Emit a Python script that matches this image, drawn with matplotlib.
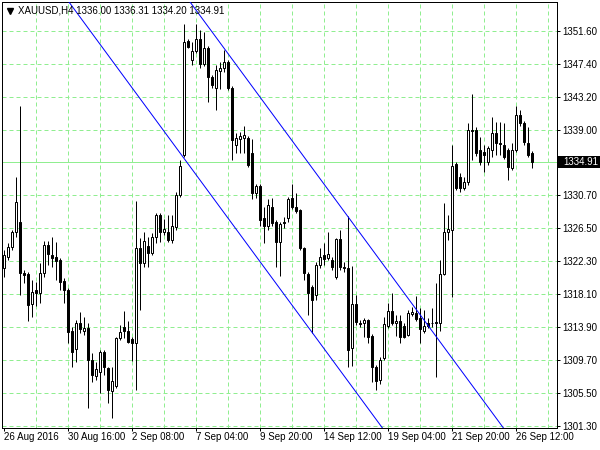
import matplotlib.pyplot as plt
from matplotlib.lines import Line2D
from matplotlib.patches import Rectangle
from matplotlib.transforms import blended_transform_factory

# XAUUSD H4 candles, bar 0 = 26 Aug 2016 00:00
bar_open = [1321.41, 1322.81, 1324.08, 1325.99, 1327.27, 1320.77, 1320.65, 1316.83, 1318.61, 1318.23,
            1320.77, 1324.34, 1323.07, 1322.81, 1322.43, 1319.76, 1318.61, 1313.39, 1311.10, 1314.41,
            1313.39, 1313.77, 1309.70, 1307.67, 1308.18, 1310.72, 1308.68, 1305.76, 1306.39, 1312.50,
            1313.90, 1313.39, 1312.38, 1311.86, 1323.95, 1322.05, 1324.21, 1323.32, 1325.36, 1328.16,
            1325.99, 1325.99, 1324.97, 1326.63, 1330.70, 1335.79, 1350.30, 1347.88, 1349.03, 1350.56,
            1347.37, 1349.41, 1345.72, 1344.32, 1346.48, 1346.87, 1347.63, 1344.32, 1337.07, 1337.83,
            1337.96, 1337.96, 1336.05, 1330.96, 1331.85, 1327.77, 1326.76, 1329.17, 1327.27, 1324.72,
            1327.27, 1327.77, 1330.32, 1329.17, 1328.79, 1323.95, 1320.65, 1318.99, 1317.98, 1321.79,
            1323.07, 1322.68, 1322.43, 1320.27, 1325.10, 1321.54, 1321.41, 1311.23, 1316.83, 1314.41,
            1314.41, 1314.79, 1312.76, 1308.81, 1307.16, 1309.96, 1314.03, 1315.94, 1314.41, 1314.67,
            1314.03, 1312.88, 1315.56, 1315.68, 1315.05, 1313.39, 1314.41, 1314.41, 1314.41, 1314.41,
            1320.65, 1325.99, 1326.25, 1334.65, 1332.99, 1331.59, 1332.36, 1338.97, 1338.97, 1336.43,
            1336.17, 1334.90, 1336.43, 1338.59, 1337.32, 1337.07, 1336.43, 1334.14, 1336.43, 1340.88,
            1339.87, 1337.32, 1336.00]
bar_high = [1323.70, 1324.59, 1326.25, 1332.99, 1342.03, 1321.16, 1320.90, 1319.88, 1319.63, 1322.05,
            1324.85, 1324.85, 1325.36, 1324.72, 1322.68, 1320.14, 1318.87, 1313.90, 1314.79, 1315.81,
            1315.17, 1314.41, 1310.59, 1309.45, 1310.97, 1310.97, 1308.81, 1308.81, 1312.63, 1314.16,
            1315.94, 1314.67, 1312.63, 1329.94, 1325.23, 1325.99, 1325.36, 1325.87, 1328.41, 1328.41,
            1327.65, 1328.16, 1328.16, 1331.08, 1335.16, 1352.47, 1350.56, 1350.17, 1352.47, 1351.70,
            1351.45, 1349.67, 1345.97, 1347.25, 1347.63, 1349.16, 1347.88, 1344.57, 1338.59, 1338.72,
            1339.48, 1338.21, 1337.83, 1332.10, 1332.10, 1329.17, 1330.19, 1330.32, 1327.52, 1327.27,
            1327.90, 1330.45, 1332.10, 1330.96, 1328.92, 1324.08, 1320.90, 1319.25, 1322.17, 1323.95,
            1324.59, 1325.99, 1322.81, 1325.23, 1326.25, 1322.17, 1328.03, 1321.67, 1317.98, 1314.79,
            1315.05, 1314.92, 1313.01, 1309.07, 1310.08, 1315.17, 1316.96, 1318.23, 1315.43, 1315.43,
            1314.41, 1316.06, 1316.45, 1317.85, 1316.32, 1316.06, 1315.05, 1316.32, 1319.50, 1322.43,
            1329.68, 1328.16, 1337.07, 1334.90, 1333.50, 1332.99, 1339.87, 1343.56, 1339.36, 1338.08,
            1337.07, 1336.94, 1340.63, 1339.99, 1339.99, 1339.87, 1336.68, 1337.32, 1342.03, 1341.52,
            1340.12, 1339.36, 1336.31]
bar_low = [1320.27, 1322.43, 1323.70, 1325.36, 1317.98, 1319.50, 1314.67, 1315.17, 1316.57, 1316.96,
           1320.27, 1321.79, 1321.54, 1319.88, 1318.61, 1316.96, 1311.86, 1308.81, 1309.45, 1313.14,
           1312.88, 1303.59, 1306.90, 1307.16, 1305.50, 1307.79, 1304.23, 1302.32, 1306.14, 1312.25,
           1312.50, 1311.86, 1309.58, 1305.88, 1316.06, 1321.54, 1321.54, 1323.07, 1324.59, 1324.72,
           1325.61, 1324.72, 1324.59, 1326.25, 1330.45, 1335.54, 1349.41, 1347.25, 1348.77, 1346.87,
           1347.12, 1342.54, 1344.32, 1341.52, 1344.19, 1346.36, 1344.07, 1335.16, 1336.05, 1336.05,
           1336.05, 1334.27, 1330.19, 1330.32, 1326.76, 1324.59, 1326.25, 1326.76, 1321.54, 1320.39,
           1326.50, 1327.27, 1328.92, 1328.41, 1323.70, 1319.88, 1315.43, 1313.14, 1317.34, 1321.41,
           1321.79, 1322.43, 1321.16, 1320.01, 1321.16, 1320.90, 1308.81, 1308.94, 1314.16, 1313.90,
           1312.63, 1311.86, 1306.90, 1305.88, 1306.65, 1309.70, 1313.77, 1314.16, 1312.76, 1311.86,
           1312.50, 1312.76, 1315.30, 1314.67, 1311.86, 1313.14, 1313.77, 1313.90, 1307.54, 1313.39,
           1320.52, 1324.97, 1317.72, 1331.34, 1331.08, 1331.34, 1331.97, 1335.16, 1335.67, 1334.52,
           1333.63, 1334.52, 1335.54, 1335.79, 1335.79, 1335.28, 1332.61, 1333.88, 1336.17, 1339.48,
           1337.07, 1335.54, 1334.20]
bar_close = [1323.07, 1324.08, 1325.99, 1329.81, 1320.77, 1320.52, 1316.70, 1318.36, 1318.23, 1320.77,
             1324.34, 1323.19, 1322.68, 1322.30, 1319.63, 1318.61, 1313.27, 1310.72, 1314.41, 1313.65,
             1313.77, 1309.70, 1307.79, 1308.56, 1310.72, 1308.81, 1305.88, 1307.03, 1312.50, 1313.27,
             1313.39, 1311.99, 1311.86, 1323.95, 1322.05, 1324.85, 1323.32, 1325.36, 1328.16, 1325.99,
             1326.37, 1324.97, 1326.76, 1330.70, 1334.39, 1350.17, 1349.54, 1349.03, 1350.56, 1347.37,
             1349.41, 1345.72, 1344.70, 1346.61, 1346.87, 1347.63, 1344.32, 1337.70, 1337.96, 1338.21,
             1338.34, 1334.52, 1330.96, 1331.85, 1327.52, 1326.76, 1329.43, 1327.14, 1324.72, 1327.01,
             1327.14, 1330.19, 1329.17, 1328.67, 1323.95, 1320.77, 1318.23, 1317.34, 1321.79, 1322.81,
             1322.56, 1323.19, 1321.54, 1325.10, 1321.54, 1321.41, 1310.97, 1316.83, 1314.54, 1314.28,
             1314.79, 1312.63, 1308.81, 1307.03, 1309.70, 1314.28, 1315.94, 1314.41, 1314.67, 1312.63,
             1312.63, 1315.68, 1315.81, 1314.92, 1313.65, 1314.03, 1314.03, 1314.41, 1314.54, 1320.65,
             1325.99, 1326.37, 1334.39, 1331.59, 1331.59, 1332.36, 1338.97, 1338.85, 1336.05, 1334.90,
             1335.79, 1336.68, 1338.59, 1337.32, 1337.19, 1335.54, 1334.27, 1336.43, 1340.88, 1339.87,
             1337.45, 1335.79, 1334.91]

date_ticks = [0, 16, 32, 48, 64, 80, 96, 112, 128]
date_labels = ['26 Aug 2016', '30 Aug 16:00', '2 Sep 08:00', '7 Sep 04:00', '9 Sep 20:00',
               '14 Sep 12:00', '19 Sep 04:00', '21 Sep 20:00', '26 Sep 12:00']
price_ticks = [1301.30, 1305.50, 1309.70, 1313.90, 1318.10, 1322.30, 1326.50,
               1330.70, 1339.00, 1343.20, 1347.40, 1351.60]
last_price = 1334.91

# trend channel, two anchor points (bar, price) for each line
channel_lower = [(16.75, 1355.00), (94.75, 1301.04)]
channel_upper = [(86.0, 1328.03), (125.0, 1301.04)]

plt.rcParams['font.family'] = ['Liberation Sans', 'DejaVu Sans']
px = 0.72  # one pixel in points at 100 dpi
grid_green = '#90ee90'

fig = plt.figure(figsize=(6, 4.5), dpi=100)
ax = fig.add_axes([2 / 600, 22 / 450, 555 / 600, 426 / 450])
ax.set_xlim(-0.375, 138.375)
ax.set_ylim(1301.05, 1355.27)

# dashed grid
for gx in range(8, 139, 8):
    ax.axvline(gx, color=grid_green, lw=px, ls=(0, (4, 3)), zorder=0)
for gy in price_ticks:
    ax.axhline(gy, color=grid_green, lw=px, ls=(0, (4, 3)), zorder=0)
ax.axhline(last_price, color=grid_green, lw=px, zorder=1)

# candles
xs = list(range(len(bar_open)))
ax.vlines(xs, bar_low, bar_high, color='black', lw=px, zorder=2)
bottoms = [min(o, c) for o, c in zip(bar_open, bar_close)]
heights = [abs(c - o) for o, c in zip(bar_open, bar_close)]
fills = ['white' if c >= o else 'black' for o, c in zip(bar_open, bar_close)]
ax.bar(xs, heights, bottom=bottoms, width=0.5, color=fills, edgecolor='black',
       linewidth=px, zorder=3)

# channel lines
ax.axline(channel_lower[0], channel_lower[1], color='#0000ff', lw=px, zorder=4)
ax.axline(channel_upper[0], channel_upper[1], color='#0000ff', lw=px, zorder=4)

for sp in ax.spines.values():
    sp.set_linewidth(px)
    sp.set_color('black')

ax.yaxis.tick_right()
ax.set_yticks(price_ticks)
ax.set_yticklabels([f'{p:.2f}' for p in price_ticks])
ax.set_xticks(date_ticks)
ax.set_xticklabels(date_labels)
for lab in ax.get_xticklabels():
    lab.set_ha('left')
ax.tick_params(axis='both', direction='out', length=3 * px, width=px, labelsize=7,
               colors='black')
ax.tick_params(axis='y', pad=1.5)
ax.tick_params(axis='x', pad=1.0)

# current price marker on the price scale
tr = blended_transform_factory(fig.transFigure, ax.transData)
ax.add_artist(Rectangle((558 / 600, last_price - 0.82), 42 / 600, 1.64, transform=tr,
                        facecolor='black', edgecolor='none', clip_on=False, zorder=5))
ax.text(563 / 600, last_price, f'{last_price:.2f}', transform=tr, color='white',
        fontsize=7, va='center', ha='left', clip_on=False, zorder=6)

# symbol header
fig.add_artist(Line2D([9.5 / 600], [1 - 10.5 / 450], marker='v', markersize=4.5,
                      color='black', transform=fig.transFigure))
fig.text(18 / 600, 1 - 10.5 / 450, 'XAUUSD,H4 1336.00 1336.31 1334.20 1334.91',
         fontsize=7, ha='left', va='center')

fig.savefig('out.png', dpi=100)
